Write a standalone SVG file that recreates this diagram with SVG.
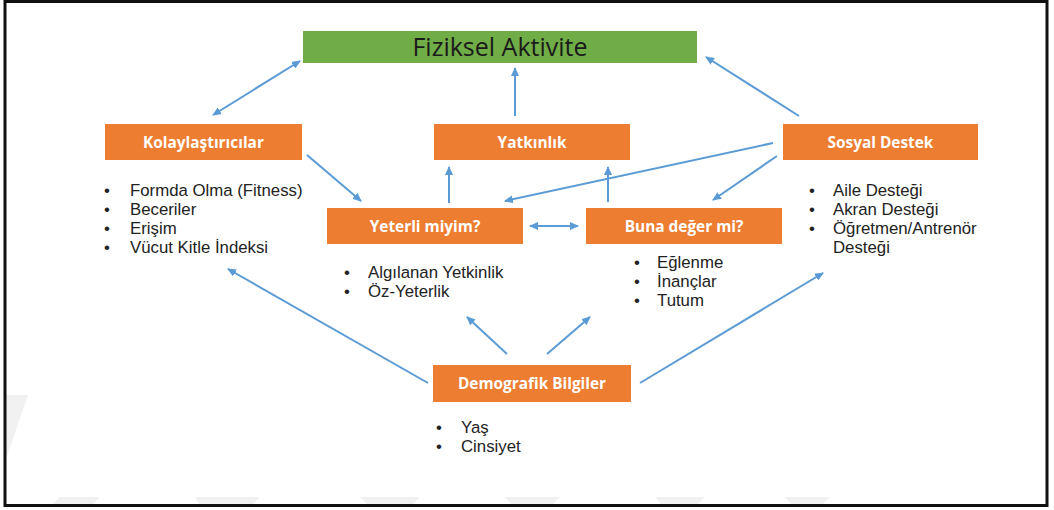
<svg xmlns="http://www.w3.org/2000/svg" width="1054" height="510" viewBox="0 0 1054 510">
<defs>
<style>
.box{fill:#ED7D31;}
.lbl{font-family:"Open Sans","Liberation Sans",sans-serif;font-weight:bold;font-size:15.4px;fill:#FFFFFF;text-anchor:middle;}
.li{font-family:"Liberation Sans",Arial,sans-serif;font-size:16.8px;fill:#222222;}
.con{stroke:#5B9BD5;stroke-width:2;fill:none;marker-end:url(#ah);}
.bi{marker-start:url(#ahs);}
.wm{fill:#F1F1F1;}
</style>
<marker id="ah" markerWidth="9" markerHeight="8" refX="8" refY="4" orient="auto" markerUnits="userSpaceOnUse">
<path d="M0,0 L9,4 L0,8 Z" fill="#5B9BD5"/>
</marker>
<marker id="ahs" markerWidth="9" markerHeight="8" refX="1" refY="4" orient="auto" markerUnits="userSpaceOnUse">
<path d="M9,0 L0,4 L9,8 Z" fill="#5B9BD5"/>
</marker>
</defs>
<rect x="0" y="0" width="1054" height="510" fill="#FFFFFF"/>
<g id="watermark">
<polygon class="wm" points="5,395 28,395 5,462"/>
<polygon class="wm" points="60,497 100,497 92,505 52,505"/>
<polygon class="wm" points="195,497 260,497 252,505 200,505"/>
<polygon class="wm" points="360,497 420,497 412,505 368,505"/>
<polygon class="wm" points="505,497 560,497 552,505 512,505"/>
<polygon class="wm" points="655,497 705,497 697,505 662,505"/>
<polygon class="wm" points="785,497 830,497 822,505 792,505"/>
</g>
<rect x="5" y="1.5" width="1042" height="504" fill="none" stroke="#111111" stroke-width="3"/>
<g id="connectors">
<line class="con bi" x1="213" y1="115" x2="300" y2="61"/>
<line class="con" x1="515" y1="116" x2="515" y2="68"/>
<line class="con" x1="799" y1="116" x2="706" y2="57"/>
<line class="con" x1="307" y1="155" x2="361" y2="201"/>
<line class="con" x1="449" y1="203" x2="449" y2="167"/>
<line class="con" x1="608" y1="202" x2="608" y2="167"/>
<line class="con" x1="773" y1="143" x2="505" y2="201"/>
<line class="con" x1="777" y1="156" x2="713" y2="200"/>
<line class="con bi" x1="530" y1="226" x2="578" y2="226"/>
<line class="con" x1="428" y1="383" x2="228" y2="269"/>
<line class="con" x1="507" y1="354" x2="467" y2="317"/>
<line class="con" x1="547" y1="354" x2="590" y2="317"/>
<line class="con" x1="640" y1="383" x2="823" y2="273"/>
</g>
<g id="fiziksel-aktivite">
<rect x="303" y="31" width="394" height="32" fill="#70AD47"/>
<text x="500" y="55.5" font-family="'Open Sans','Liberation Sans',sans-serif" font-size="25" fill="#1A1A1A" text-anchor="middle">Fiziksel Aktivite</text>
</g>
<g id="kolaylastiricilar">
<rect class="box" x="105" y="124" width="197" height="36"/>
<text class="lbl" x="203.5" y="147.5">Kolaylaştırıcılar</text>
<text class="li"><tspan x="104" y="196">•</tspan><tspan x="130" y="196">Formda Olma (Fitness)</tspan><tspan x="104" y="215">•</tspan><tspan x="130" y="215">Beceriler</tspan><tspan x="104" y="234">•</tspan><tspan x="130" y="234">Erişim</tspan><tspan x="104" y="253">•</tspan><tspan x="130" y="253">Vücut Kitle İndeksi</tspan></text>
</g>
<g id="yatkinlik">
<rect class="box" x="434" y="124" width="196" height="36"/>
<text class="lbl" x="532" y="147.5">Yatkınlık</text>
</g>
<g id="sosyal-destek">
<rect class="box" x="783" y="124" width="195" height="36"/>
<text class="lbl" x="880.5" y="147.5">Sosyal Destek</text>
<text class="li"><tspan x="809" y="196">•</tspan><tspan x="833" y="196">Aile Desteği</tspan><tspan x="809" y="215">•</tspan><tspan x="833" y="215">Akran Desteği</tspan><tspan x="809" y="234">•</tspan><tspan x="833" y="234">Öğretmen/Antrenör</tspan><tspan x="833" y="253">Desteği</tspan></text>
</g>
<g id="yeterli-miyim">
<rect class="box" x="327" y="208" width="196" height="36"/>
<text class="lbl" x="425" y="231.5">Yeterli miyim?</text>
<text class="li"><tspan x="344" y="278">•</tspan><tspan x="368" y="278">Algılanan Yetkinlik</tspan><tspan x="344" y="297">•</tspan><tspan x="368" y="297">Öz-Yeterlik</tspan></text>
</g>
<g id="buna-deger-mi">
<rect class="box" x="586" y="208" width="196" height="36"/>
<text class="lbl" x="684" y="231.5">Buna değer mi?</text>
<text class="li"><tspan x="634" y="268">•</tspan><tspan x="657" y="268">Eğlenme</tspan><tspan x="634" y="287">•</tspan><tspan x="657" y="287">İnançlar</tspan><tspan x="634" y="306">•</tspan><tspan x="657" y="306">Tutum</tspan></text>
</g>
<g id="demografik-bilgiler">
<rect class="box" x="433" y="365" width="198" height="37"/>
<text class="lbl" x="532" y="389">Demografik Bilgiler</text>
<text class="li"><tspan x="436" y="433">•</tspan><tspan x="461" y="433">Yaş</tspan><tspan x="436" y="452">•</tspan><tspan x="461" y="452">Cinsiyet</tspan></text>
</g>
</svg>
